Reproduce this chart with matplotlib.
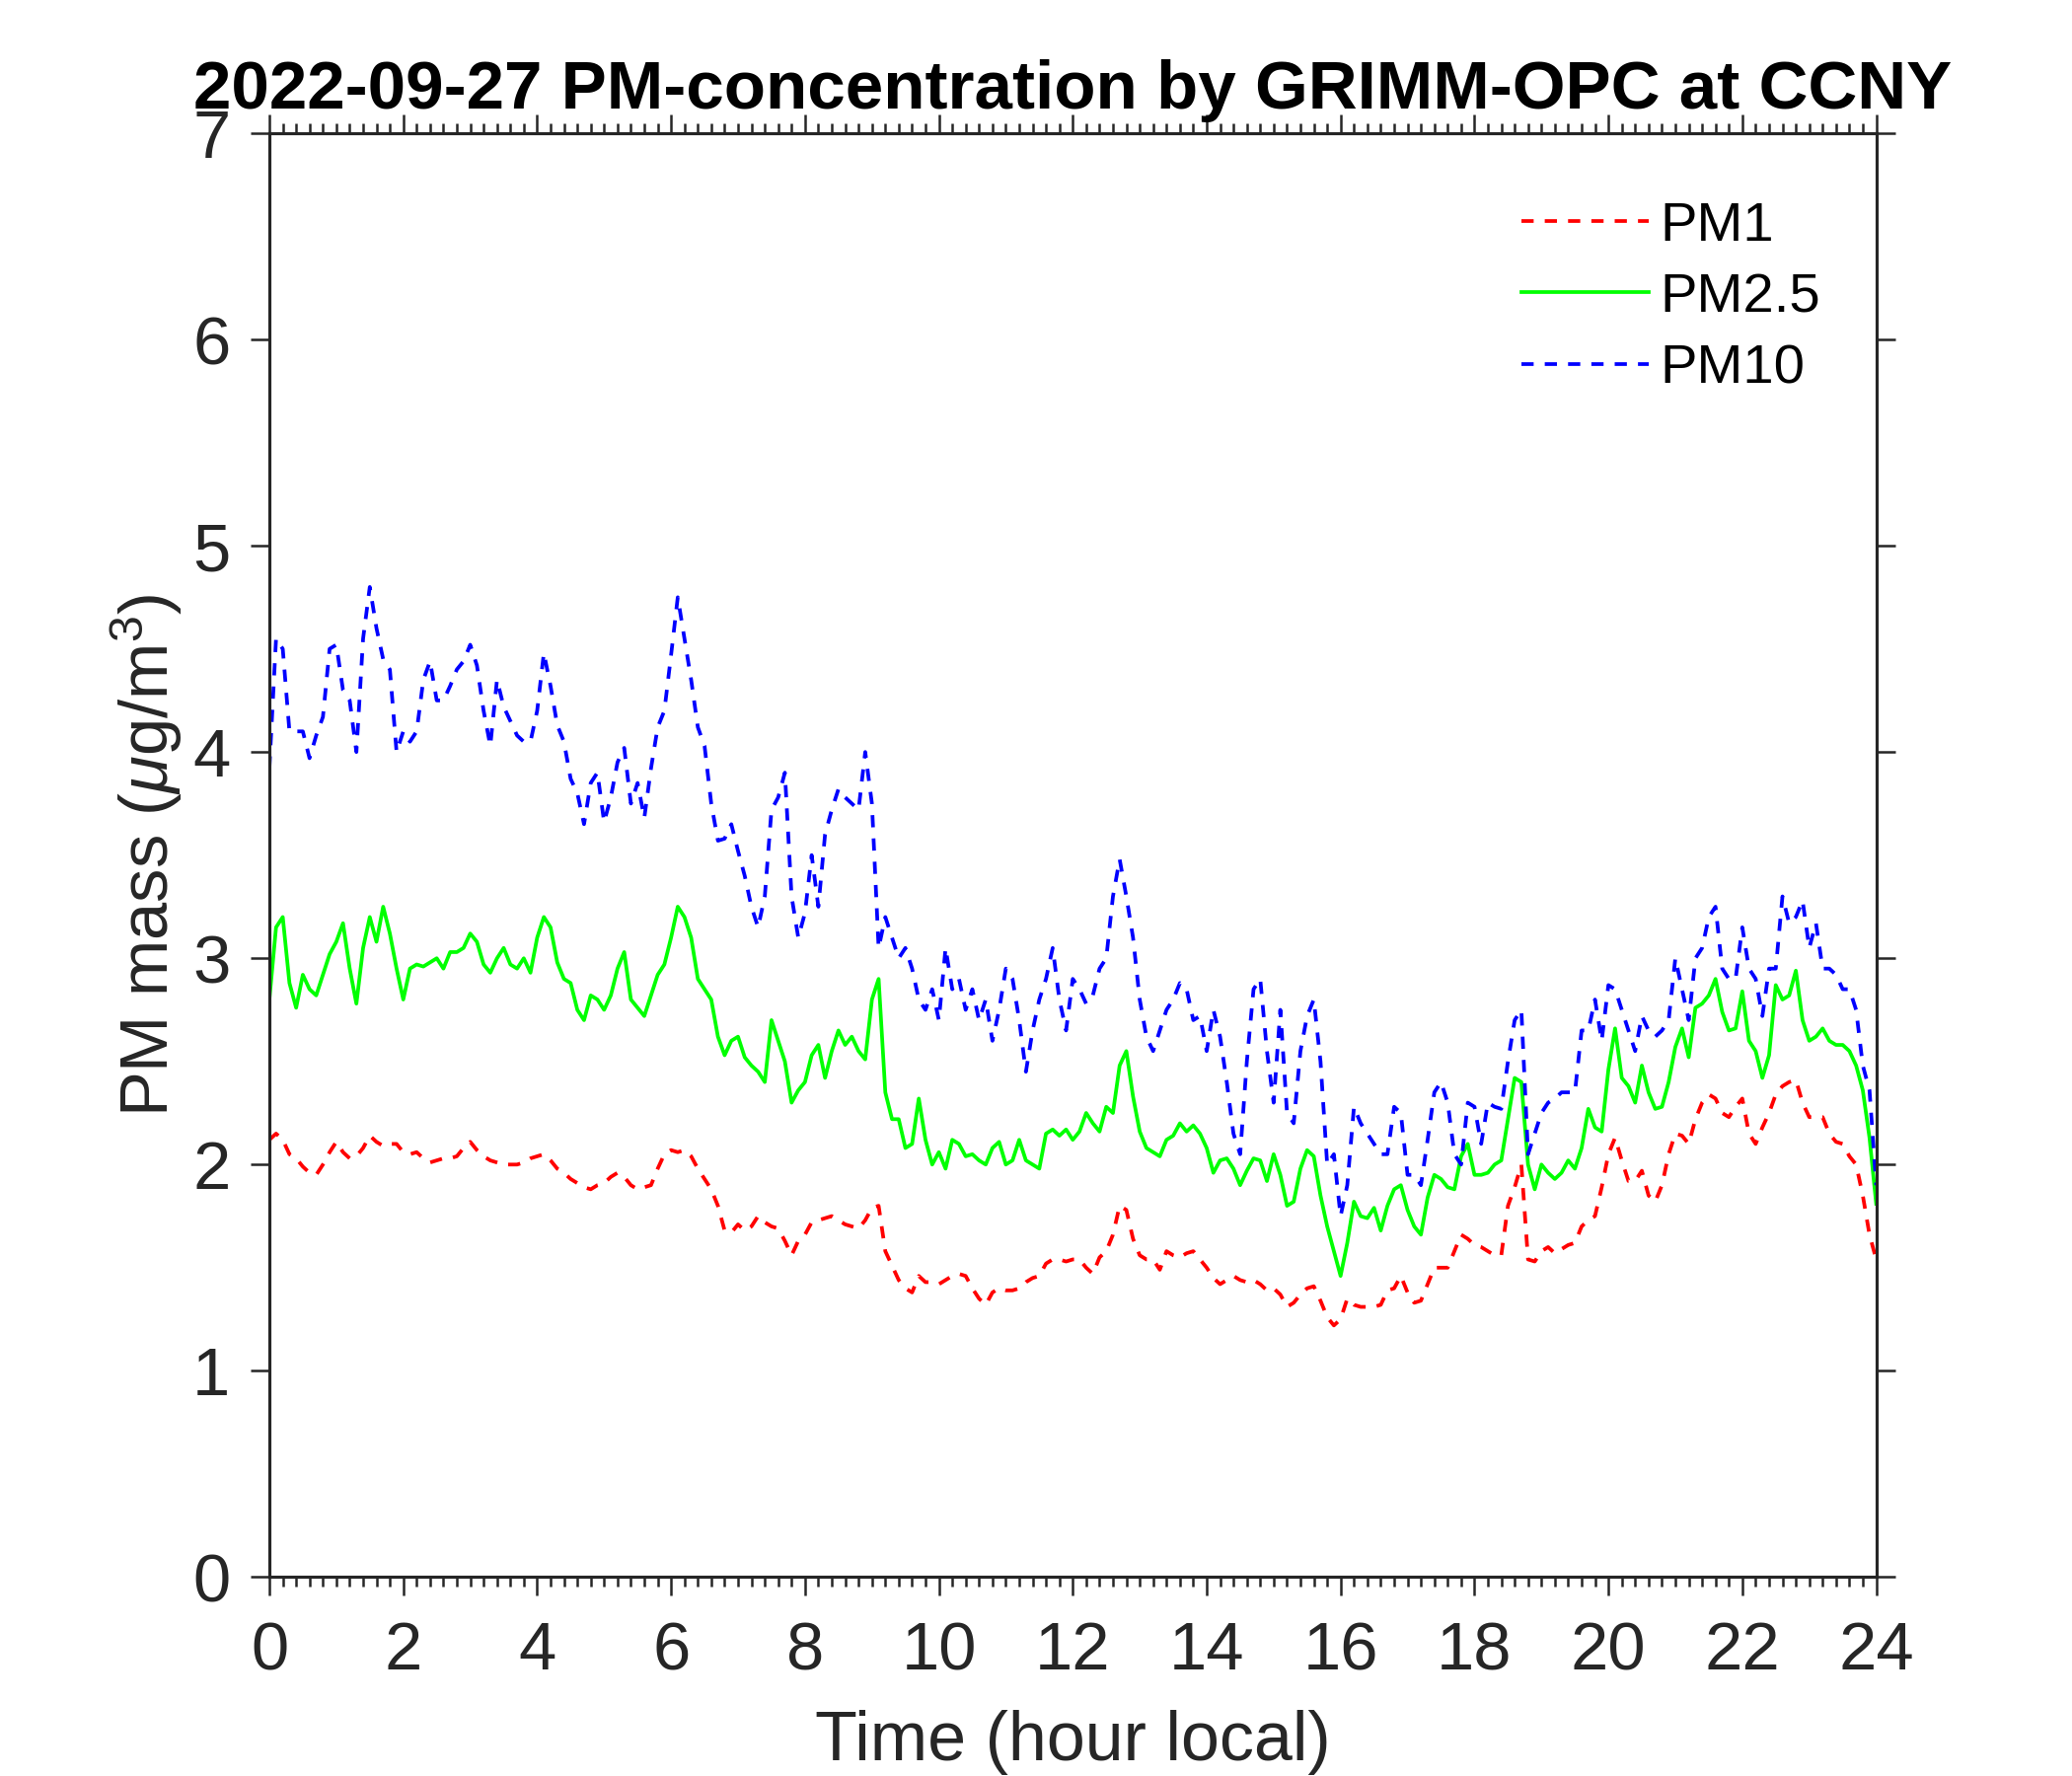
import numpy as np
import matplotlib.pyplot as plt

# GRIMM-OPC readings, one value every 6 minutes from 0 h to 24 h local
hours = np.arange(0, 241) / 10.0

pm1 = [
    2.12, 2.15, 2.12, 2.05, 2.03, 1.99, 1.96, 1.95, 2.00, 2.06,
    2.11, 2.06, 2.03, 2.04, 2.08, 2.14, 2.11, 2.09, 2.10, 2.10,
    2.06, 2.05, 2.06, 2.03, 2.01, 2.02, 2.03, 2.03, 2.04, 2.08,
    2.11, 2.07, 2.04, 2.02, 2.01, 2.00, 2.00, 2.00, 2.01, 2.03,
    2.04, 2.05, 2.02, 1.98, 1.96, 1.93, 1.91, 1.89, 1.88, 1.90,
    1.91, 1.94, 1.96, 1.94, 1.90, 1.88, 1.89, 1.90, 1.98, 2.05,
    2.07, 2.06, 2.07, 2.04, 1.98, 1.93, 1.88, 1.80, 1.68, 1.67,
    1.71, 1.68, 1.70, 1.75, 1.72, 1.70, 1.69, 1.63, 1.56, 1.63,
    1.66, 1.72, 1.73, 1.74, 1.75, 1.73, 1.71, 1.70, 1.69, 1.73,
    1.79, 1.80, 1.58, 1.51, 1.44, 1.40, 1.38, 1.46, 1.43, 1.43,
    1.42, 1.44, 1.46, 1.47, 1.46, 1.40, 1.35, 1.32, 1.38, 1.40,
    1.39, 1.39, 1.40, 1.43, 1.45, 1.46, 1.52, 1.54, 1.54, 1.53,
    1.54, 1.54, 1.50, 1.47, 1.55, 1.58, 1.66, 1.80, 1.78, 1.64,
    1.56, 1.54, 1.54, 1.49, 1.58, 1.56, 1.55, 1.57, 1.58, 1.54,
    1.50, 1.45, 1.42, 1.44, 1.46, 1.44, 1.43, 1.44, 1.42, 1.39,
    1.40, 1.37, 1.31, 1.33, 1.37, 1.40, 1.41, 1.34, 1.26, 1.22,
    1.25, 1.35, 1.32, 1.31, 1.31, 1.31, 1.32, 1.39, 1.40, 1.46,
    1.38, 1.33, 1.34, 1.42, 1.50, 1.50, 1.50, 1.58, 1.66, 1.64,
    1.61, 1.60, 1.58, 1.56, 1.56, 1.80, 1.89, 2.00, 1.54, 1.53,
    1.58, 1.60, 1.57, 1.59, 1.61, 1.62, 1.70, 1.73, 1.75, 1.89,
    2.05, 2.13, 2.02, 1.92, 1.92, 1.97, 1.85, 1.82, 1.90, 2.05,
    2.15, 2.14, 2.10, 2.22, 2.30, 2.34, 2.32, 2.25, 2.23, 2.28,
    2.32, 2.15, 2.10, 2.18, 2.25, 2.34, 2.38, 2.40, 2.41, 2.30,
    2.23, 2.23, 2.23, 2.15, 2.11, 2.10, 2.04, 2.00, 1.85, 1.66,
    1.54,
]

pm25 = [
    2.80, 3.15, 3.20, 2.88, 2.76, 2.92, 2.85, 2.82, 2.92, 3.02,
    3.08, 3.17, 2.95, 2.78, 3.05, 3.20, 3.08, 3.25, 3.12, 2.95,
    2.80, 2.95, 2.97, 2.96, 2.98, 3.00, 2.95, 3.03, 3.03, 3.05,
    3.12, 3.08, 2.97, 2.93, 3.00, 3.05, 2.97, 2.95, 3.00, 2.93,
    3.10, 3.20, 3.15, 2.98, 2.90, 2.88, 2.75, 2.70, 2.82, 2.80,
    2.75, 2.82, 2.95, 3.03, 2.80, 2.76, 2.72, 2.82, 2.92, 2.97,
    3.10, 3.25, 3.20, 3.10, 2.90, 2.85, 2.80, 2.62, 2.53, 2.60,
    2.62, 2.52, 2.48, 2.45, 2.40, 2.70, 2.60, 2.50, 2.30, 2.36,
    2.40, 2.53, 2.58, 2.42, 2.55, 2.65, 2.58, 2.62, 2.55, 2.51,
    2.80, 2.90, 2.35, 2.22, 2.22, 2.08, 2.10, 2.32, 2.12, 2.00,
    2.06, 1.98, 2.12, 2.10, 2.04, 2.05, 2.02, 2.00, 2.08, 2.11,
    2.00, 2.02, 2.12, 2.02, 2.00, 1.98, 2.15, 2.17, 2.14, 2.17,
    2.12, 2.16, 2.25, 2.20, 2.16, 2.28, 2.25, 2.48, 2.55, 2.33,
    2.16, 2.08, 2.06, 2.04, 2.12, 2.14, 2.20, 2.16, 2.19, 2.15,
    2.08, 1.96, 2.02, 2.03, 1.98, 1.90, 1.97, 2.03, 2.02, 1.92,
    2.05, 1.95, 1.80, 1.82, 1.98, 2.07, 2.04, 1.85, 1.70, 1.58,
    1.46, 1.62, 1.82, 1.75, 1.74, 1.79, 1.68, 1.80, 1.88, 1.90,
    1.78, 1.70, 1.66, 1.84, 1.95, 1.93, 1.89, 1.88, 2.04, 2.10,
    1.95, 1.95, 1.96, 2.00, 2.02, 2.22, 2.42, 2.40, 2.00, 1.88,
    2.00, 1.96, 1.93, 1.96, 2.02, 1.98, 2.08, 2.27, 2.18, 2.16,
    2.46, 2.66, 2.42, 2.38, 2.30, 2.48, 2.35, 2.27, 2.28, 2.40,
    2.57, 2.66, 2.52, 2.76, 2.78, 2.82, 2.90, 2.74, 2.65, 2.66,
    2.84, 2.60, 2.55, 2.42, 2.53, 2.87, 2.80, 2.82, 2.94, 2.70,
    2.60, 2.62, 2.66, 2.60, 2.58, 2.58, 2.55, 2.48, 2.36, 2.13,
    1.81,
]

pm10 = [
    3.92, 4.55, 4.50, 4.10, 4.10, 4.10, 3.97, 4.08, 4.17, 4.50,
    4.52, 4.30, 4.25, 4.00, 4.55, 4.80, 4.60, 4.45, 4.40, 4.00,
    4.10, 4.05, 4.10, 4.35, 4.44, 4.25, 4.25, 4.32, 4.40, 4.44,
    4.52, 4.42, 4.20, 4.03, 4.35, 4.22, 4.15, 4.08, 4.05, 4.05,
    4.20, 4.48, 4.32, 4.13, 4.05, 3.87, 3.80, 3.65, 3.85, 3.90,
    3.66, 3.78, 3.95, 4.02, 3.75, 3.85, 3.68, 3.92, 4.12, 4.20,
    4.47, 4.75, 4.55, 4.35, 4.12, 4.03, 3.75, 3.57, 3.58, 3.65,
    3.52, 3.40, 3.25, 3.15, 3.30, 3.72, 3.78, 3.90, 3.30, 3.10,
    3.22, 3.50, 3.25, 3.60, 3.72, 3.82, 3.78, 3.75, 3.72, 4.00,
    3.75, 3.05, 3.20, 3.10, 3.00, 3.05, 2.95, 2.80, 2.75, 2.85,
    2.70, 3.05, 2.85, 2.90, 2.75, 2.85, 2.70, 2.80, 2.60, 2.75,
    2.95, 2.90, 2.70, 2.45, 2.65, 2.80, 2.90, 3.05, 2.80, 2.65,
    2.90, 2.85, 2.78, 2.82, 2.95, 3.00, 3.30, 3.48, 3.30, 3.10,
    2.80, 2.62, 2.55, 2.65, 2.75, 2.80, 2.88, 2.85, 2.70, 2.72,
    2.55, 2.75, 2.62, 2.40, 2.15, 2.05, 2.50, 2.85, 2.90, 2.55,
    2.30, 2.75, 2.25, 2.20, 2.55, 2.72, 2.80, 2.50, 2.00, 2.05,
    1.75, 1.90, 2.28, 2.20, 2.15, 2.10, 2.05, 2.05, 2.28, 2.25,
    1.95, 1.95, 1.90, 2.12, 2.35, 2.40, 2.30, 2.05, 2.00, 2.30,
    2.28, 2.10, 2.30, 2.28, 2.27, 2.50, 2.70, 2.75, 2.05, 2.15,
    2.25, 2.30, 2.32, 2.35, 2.35, 2.35, 2.65, 2.65, 2.80, 2.60,
    2.87, 2.85, 2.75, 2.65, 2.55, 2.72, 2.65, 2.62, 2.65, 2.70,
    3.00, 2.85, 2.70, 3.00, 3.05, 3.20, 3.25, 2.95, 2.90, 2.90,
    3.15, 2.95, 2.90, 2.72, 2.95, 2.95, 3.30, 3.17, 3.20, 3.28,
    3.05, 3.17, 2.95, 2.95, 2.92, 2.85, 2.85, 2.75, 2.48, 2.36,
    1.90,
]

plt.rcParams['font.family'] = ['Liberation Sans', 'DejaVu Sans']
plt.rcParams['mathtext.fontset'] = 'custom'
plt.rcParams['mathtext.rm'] = 'Liberation Sans'
plt.rcParams['mathtext.it'] = 'Liberation Sans:italic'

axcol = '#262626'

fig = plt.figure(figsize=(7, 6), dpi=300)
ax = fig.add_axes([0.130, 0.112, 0.7755, 0.813])

ax.plot(hours, pm1, color='#ff0000', lw=0.9, ls=(0, (3.3, 3)), label='PM1')
ax.plot(hours, pm25, color='#00ff00', lw=0.9, label='PM2.5')
ax.plot(hours, pm10, color='#0000ff', lw=0.9, ls=(0, (3.3, 3)), label='PM10')

ax.set_xlim(0, 24)
ax.set_ylim(0, 7)
ax.set_xticks(np.arange(0, 25, 2))
ax.set_xticks(np.arange(0, 24.01, 0.2), minor=True)
ax.set_yticks(range(0, 8))

for sp in ax.spines.values():
    sp.set_color(axcol)
    sp.set_linewidth(0.75)

ax.tick_params(which='both', direction='out', top=True, right=True,
               colors=axcol, width=0.6)
ax.tick_params(which='major', length=4.5, labelsize=16.5)
ax.tick_params(axis='x', which='major', pad=6)
ax.tick_params(axis='y', which='major', pad=5)
ax.tick_params(which='minor', length=2.3)

ax.set_xlabel('Time (hour local)', fontsize=16.8, color=axcol, labelpad=6.5)
ax.set_ylabel(r'PM mass ($\mu$g/m$^3$)', fontsize=16.5, color=axcol, labelpad=2)
ax.set_title('2022-09-27 PM-concentration by GRIMM-OPC at CCNY',
             fontsize=16.6, fontweight='bold', pad=6)

ax.legend(loc='upper left', bbox_to_anchor=(0.779, 0.953), frameon=False,
          fontsize=13.5, handlelength=2.3, handletextpad=0.2,
          labelspacing=0.36, borderpad=0, borderaxespad=0)

fig.savefig('out.png', dpi=300, facecolor='white')
